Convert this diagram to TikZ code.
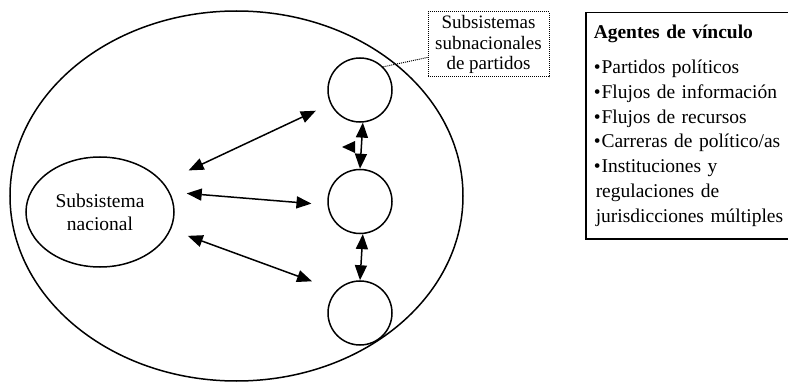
\documentclass[tikz,border=0pt]{standalone}
\usepackage{fontspec}
\setmainfont{Liberation Serif}
\usepackage{tikz}
\usetikzlibrary{arrows.meta,positioning,calc,shapes.geometric}
\tikzset{
  sistema/.style  = {draw, ellipse, line width=1.5pt, inner sep=0pt},
  subsis/.style   = {draw, ellipse, line width=1.5pt, align=center,
                     font=\fontsize{19.5}{23}\selectfont},
  nodo/.style     = {draw, circle, line width=1.5pt, minimum size=64pt, inner sep=0pt},
  flecha/.style   = {{Triangle[length=15pt,width=12pt]}-{Triangle[length=15pt,width=12pt]},
                     line width=1.5pt},
  nota/.style     = {draw, densely dotted, line width=1pt, align=center,
                     font=\fontsize{19}{20.5}\selectfont, inner sep=1pt},
  enlace/.style   = {densely dotted, line width=1pt},
  recuadro/.style = {draw, line width=1.5pt, align=left, text width=200pt,
                     font=\fontsize{19.5}{24.8}\selectfont, inner xsep=8pt,
                     minimum height=226pt},
}
\begin{document}
\begin{tikzpicture}[x=1pt, y=1pt, node distance=46pt]
  \useasboundingbox (0,0) rectangle (788,381);
  \node[sistema, minimum width=453pt, minimum height=370pt] (sistema) at (236.5,185) {};
  \node[subsis, minimum width=148pt, minimum height=110pt] (nac) at (100,169) {Subsistema\\nacional};
  \node[nodo] (top) at (360,291) {};
  \node[nodo, below=of top] (mid) {};
  \node[nodo, below=of mid] (bot) {};
  \node[nota, minimum width=121pt, minimum height=65pt] (notasub) at (488.5,336.5) {Subsistemas\\subnacionales\\de partidos};
  \node[recuadro, anchor=north west] (agentes) at (585,369) {%
    \textbf{Agentes de vínculo}\\[10pt]
    •\kern1pt Partidos políticos\\
    •\kern1pt Flujos de información\\
    •\kern1pt Flujos de recursos\\
    •\kern1pt Carreras de político/as\\
    •\kern1pt Instituciones y\\
    \hspace*{2pt}regulaciones de\\
    \hspace*{2pt}jurisdicciones múltiples};
  \draw[flecha, shorten <=28pt, shorten >=16pt] (nac) -- (top);
  \draw[flecha, shorten <=17pt, shorten >=16pt] (nac.16) -- (mid.186);
  \draw[flecha, shorten <=18pt, shorten >=26pt] (nac.-14) -- (bot.136);
  \draw[flecha] (top.-85) -- (mid.north);
  \draw[flecha] (mid.-85) -- (bot.north);
  \fill (355,240) -- (355,228) -- (342,234) -- cycle;
  \draw[enlace] (notasub.192) -- (top.45);
\end{tikzpicture}
\end{document}
